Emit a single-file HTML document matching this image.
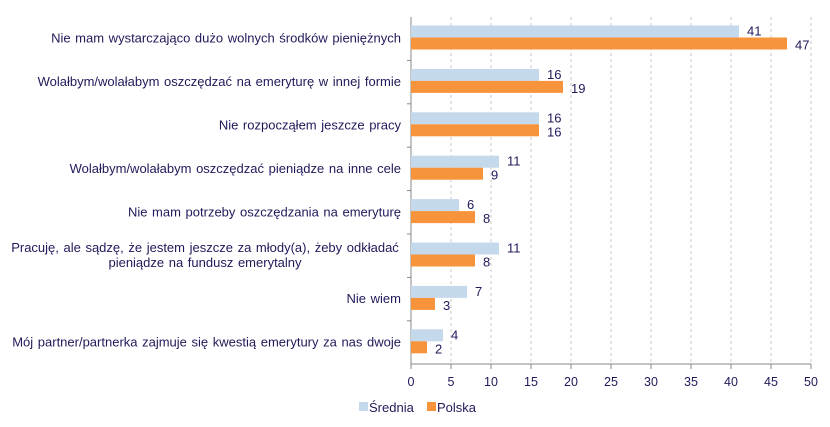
<!DOCTYPE html>
<html><head><meta charset="utf-8"><style>
body{margin:0;background:#fff;}
svg{display:block;font-family:"Liberation Sans",Arial,sans-serif;}
</style></head><body>
<svg id="chart" width="830" height="427"></svg>
<script>
const categories=["Nie mam wystarczająco dużo wolnych środków pieniężnych","Wolałbym/wolałabym oszczędzać na emeryturę w innej formie","Nie rozpocząłem jeszcze pracy","Wolałbym/wolałabym oszczędzać pieniądze na inne cele","Nie mam potrzeby oszczędzania na emeryturę","Pracuję, ale sądzę, że jestem jeszcze za młody(a), żeby odkładać|pieniądze na fundusz emerytalny","Nie wiem","Mój partner/partnerka zajmuje się kwestią emerytury za nas dwoje"];
const sredniaValues=[41,16,16,11,6,11,7,4];
const polskaValues=[47,19,16,9,8,8,3,2];
const xTicks=[0,5,10,15,20,25,30,35,40,45,50];
const NS="http://www.w3.org/2000/svg";
const svg=document.getElementById('chart');
const x0=411,xScale=8,topY=17,rowH=43.4,axisY=364;
const X=v=>x0+v*xScale;
const Y=i=>topY+i*rowH;
function mk(t,a,p){const e=document.createElementNS(NS,t);for(const k in a)e.setAttribute(k,a[k]);(p||svg).appendChild(e);return e;}
xTicks.forEach((t,i)=>{
  if(t>0){const g=mk('line',{x1:X(t),x2:X(t),y1:topY,y2:axisY,stroke:'#c8c8c8','stroke-dasharray':'3,3'});
  
  }
  const tk=mk('line',{x1:X(t),x2:X(t),y1:axisY,y2:axisY+5,stroke:'#888'});
  
  
  const lb=mk('text',{x:X(t),y:axisY+22,'text-anchor':'middle','font-size':12.5,fill:'#1f1a5a'});
  lb.textContent=t;
  
  
});
const ax=mk('line',{x1:x0,x2:X(50),y1:axisY,y2:axisY,stroke:'#888'});


const ay=mk('line',{x1:x0,x2:x0,y1:topY,y2:axisY,stroke:'#888'});


categories.forEach((c,i)=>{
  const yb=Y(i);
  if(i>0){const tk=mk('line',{x1:x0-4,x2:x0,y1:yb,y2:yb,stroke:'#888'});
  
  }
  const parts=c.split('|');
  const lab=mk('text',{'font-size':13,'word-spacing':1,fill:'#1f1a5a','text-anchor':'end'});
  
  
  parts.forEach((p,j)=>{
    const ts=mk('tspan',{x:401,y:yb+rowH/2+4+(parts.length>1?(j-0.5)*15:0)},lab);
    if(parts.length>1){ts.setAttribute('text-anchor','middle');ts.setAttribute('x',205);}
    ts.textContent=p;
  });
  const by=yb+8.5;
  const b1=mk('rect',{x:x0,y:by,width:sredniaValues[i]*xScale,height:12,fill:'#c5d9ec'});
  
  
  const b2=mk('rect',{x:x0,y:by+12,width:polskaValues[i]*xScale,height:12,fill:'#f7933a'});
  
  
  const t1=mk('text',{x:X(sredniaValues[i])+8,y:by+10,'font-size':13,fill:'#1f1a5a'});
  t1.textContent=sredniaValues[i];
  
  
  const t2=mk('text',{x:X(polskaValues[i])+8,y:by+24,'font-size':13,fill:'#1f1a5a'});
  t2.textContent=polskaValues[i];
  
  
});
const lg=mk('g',{});


const l1=mk('rect',{x:359,y:402,width:9,height:9,fill:'#c5d9ec'},lg);


const lt1=mk('text',{x:369,y:412,'font-size':13,fill:'#1f1a5a'},lg);lt1.textContent='Średnia';


const l2=mk('rect',{x:427,y:402,width:9,height:9,fill:'#f7933a'},lg);


const lt2=mk('text',{x:437,y:412,'font-size':13,fill:'#1f1a5a'},lg);lt2.textContent='Polska';


</script>
</body></html>
